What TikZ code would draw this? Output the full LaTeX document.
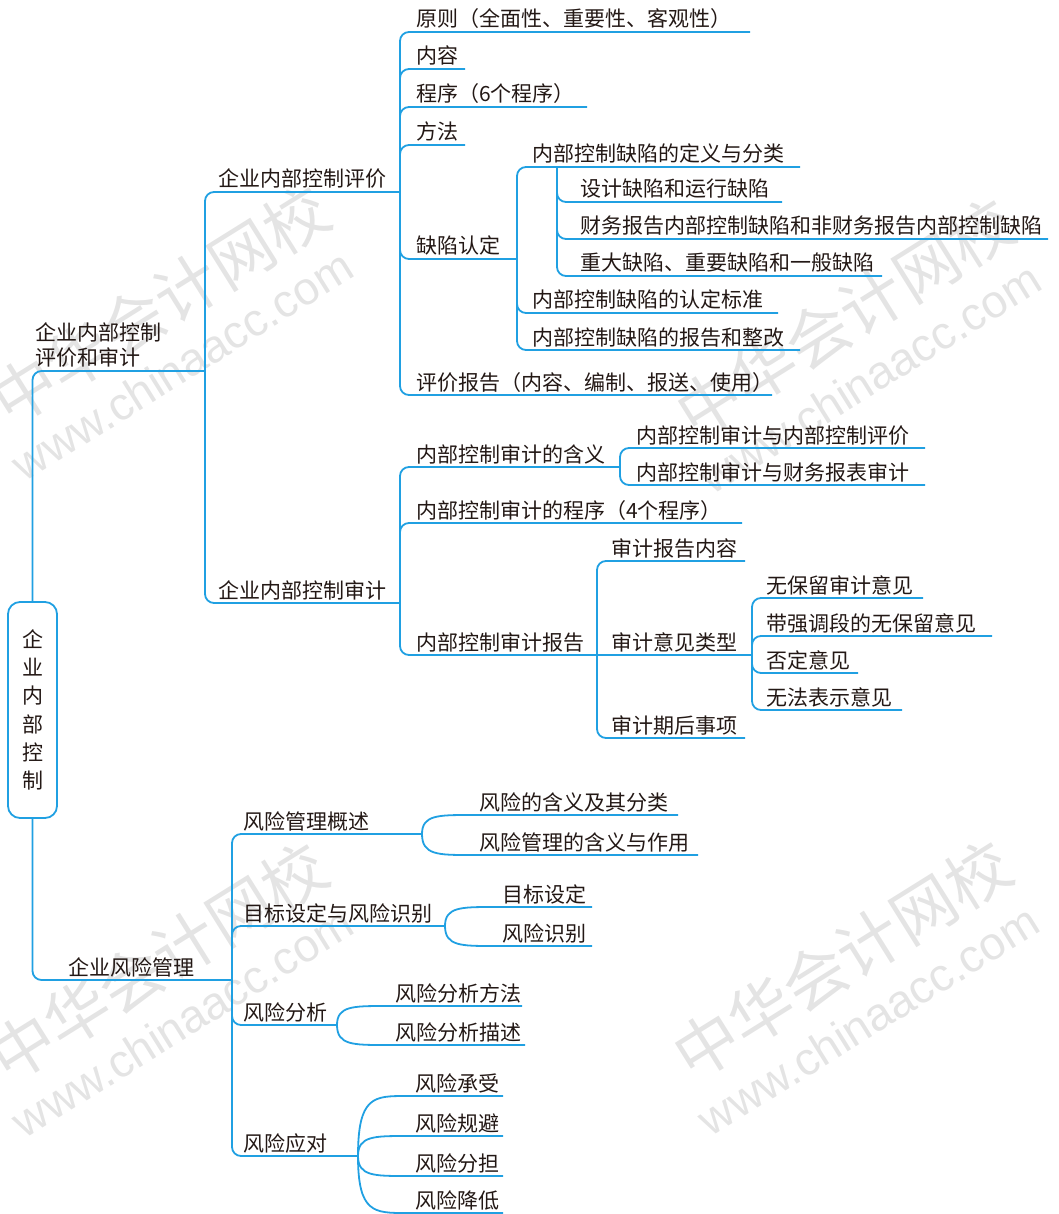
\documentclass[tikz,border=0pt]{standalone}
\usepackage{fontspec}
\setmainfont{Noto Sans CJK SC}
\newfontfamily\cjk{Noto Sans CJK SC}
\newfontfamily\wmlatin{Liberation Sans}
\definecolor{lineblue}{RGB}{32,160,226}
\definecolor{ink}{RGB}{35,24,21}
\definecolor{wmgray}{RGB}{228,228,228}
\tikzset{
  ln/.style={draw=lineblue, line width=1.8pt, rounded corners=9pt},
  cv/.style={draw=lineblue, line width=1.8pt},
  lab/.style={anchor=base west, inner sep=0pt, text=ink, font=\cjk\fontsize{21}{25}\selectfont},
  wmcn/.style={text=wmgray, rotate=32, font=\cjk\fontsize{64}{64}\selectfont, inner sep=0pt},
  wmen/.style={text=wmgray, rotate=32, font=\wmlatin\fontsize{46}{46}\selectfont, inner sep=0pt},
}
% #1 name, #2 junction coordinate, #3 child y, #4 end x, #5 text x, #6 text
\newcommand\kid[6]{%
  \coordinate (#1-e) at (#4,#3);
  \draw[ln] (#2) |- (#1-e);
  \node[lab] (#1) at (#5,#3-5) {#6};
}
% smooth curved child
\newcommand\ckid[6]{%
  \coordinate (#1-e) at (#4,#3);
  \draw[cv] (#2) .. controls ($(#2|-#1-e)$) and ($(#2|-#1-e)+(16,0)$) .. ($(#2|-#1-e)+(48,0)$) -- (#1-e);
  \node[lab] (#1) at (#5,#3-5) {#6};
}
\usetikzlibrary{calc}
\begin{document}
\begin{tikzpicture}[x=1pt,y=-1pt]
\useasboundingbox (0,0) rectangle (1058,1214);
% watermarks
\node[wmcn] (wm1) at (160,305) {中华会计网校};
\node[wmen] (wm2) at (182,365) {www.chinaacc.com};
\node[wmcn] (wm3) at (845,318) {中华会计网校};
\node[wmen] (wm4) at (870,378) {www.chinaacc.com};
\node[wmcn] (wm5) at (158,962) {中华会计网校};
\node[wmen] (wm6) at (182,1022) {www.chinaacc.com};
\node[wmcn] (wm7) at (842,960) {中华会计网校};
\node[wmen] (wm8) at (868,1020) {www.chinaacc.com};

% root
\node[draw=lineblue, line width=1.8pt, rounded corners=12pt, minimum width=49pt, minimum height=216pt,
      inner sep=0pt, align=center, text=ink, font=\cjk\fontsize{21}{28.2}\selectfont]
  (root) at (32.5,710) {企\\业\\内\\部\\控\\制};

% level 1
\coordinate (jA) at (205,371);
\draw[ln] (root.north) |- (jA);
\node[lab, anchor=south west, align=left] (A) at (35,368) {企业内部控制\\评价和审计};
\coordinate (jB) at (232,980);
\draw[ln] (root.south) |- (jB);
\node[lab] (B) at (68,975) {企业风险管理};

\coordinate (jC) at (400,192);
\draw[ln] (jA) |- (jC);
\node[lab] (C) at (218,187) {企业内部控制评价};
\coordinate (jD) at (400,603);
\draw[ln] (jA) |- (jD);
\node[lab] (D) at (218,598) {企业内部控制审计};

% under C
\kid{c1}{jC}{32}{750}{416}{原则（全面性、重要性、客观性）}
\kid{c2}{jC}{69}{465}{416}{内容}
\kid{c3}{jC}{107}{587}{416}{程序（6个程序）}
\kid{c4}{jC}{145}{465}{416}{方法}
\kid{c5}{jC}{259}{517}{416}{缺陷认定}
\kid{c6}{jC}{395}{772}{416}{评价报告（内容、编制、报送、使用）}

% under 缺陷认定
\kid{d1}{c5-e}{167}{800}{532}{内部控制缺陷的定义与分类}
\kid{d2}{c5-e}{313}{778}{532}{内部控制缺陷的认定标准}
\kid{d3}{c5-e}{350}{800}{532}{内部控制缺陷的报告和整改}

% under 定义与分类
\coordinate (jd1) at (557,167);
\kid{e1}{jd1}{202}{782}{580}{设计缺陷和运行缺陷}
\kid{e2}{jd1}{239}{1048}{580}{财务报告内部控制缺陷和非财务报告内部控制缺陷}
\kid{e3}{jd1}{276}{882}{580}{重大缺陷、重要缺陷和一般缺陷}

% under D
\kid{f1}{jD}{467}{620}{416}{内部控制审计的含义}
\kid{f2}{jD}{523}{742}{416}{内部控制审计的程序（4个程序）}
\kid{f3}{jD}{655}{597}{416}{内部控制审计报告}

% under 含义
\kid{g1}{f1-e}{448}{925}{636}{内部控制审计与内部控制评价}
\kid{g2}{f1-e}{485}{925}{636}{内部控制审计与财务报表审计}

% under 审计报告
\kid{h1}{f3-e}{561}{745}{611}{审计报告内容}
\coordinate (h2-e) at (752,655);
\draw[cv] (f3-e) -- (h2-e);
\node[lab] (h2) at (611,650) {审计意见类型};
\kid{h3}{f3-e}{738}{745}{611}{审计期后事项}

% under 审计意见类型
\kid{i1}{h2-e}{598}{923}{766}{无保留审计意见}
\kid{i2}{h2-e}{636}{992}{766}{带强调段的无保留意见}
\kid{i3}{h2-e}{673}{858}{766}{否定意见}
\kid{i4}{h2-e}{710}{902}{766}{无法表示意见}

% under B
\kid{k1}{jB}{834}{422}{243}{风险管理概述}
\kid{k2}{jB}{926}{445}{243}{目标设定与风险识别}
\kid{k3}{jB}{1025}{337}{243}{风险分析}
\kid{k4}{jB}{1156}{358}{243}{风险应对}

% curved children
\ckid{m1}{k1-e}{815}{678}{479}{风险的含义及其分类}
\ckid{m2}{k1-e}{855}{698}{479}{风险管理的含义与作用}
\ckid{n1}{k2-e}{907}{592}{502}{目标设定}
\ckid{n2}{k2-e}{946}{592}{502}{风险识别}
\ckid{p1}{k3-e}{1006}{522}{395}{风险分析方法}
\ckid{p2}{k3-e}{1045}{525}{395}{风险分析描述}
\ckid{q1}{k4-e}{1096}{503}{415}{风险承受}
\ckid{q2}{k4-e}{1136}{503}{415}{风险规避}
\ckid{q3}{k4-e}{1176}{503}{415}{风险分担}
\ckid{q4}{k4-e}{1213}{503}{415}{风险降低}
\end{tikzpicture}
\end{document}
